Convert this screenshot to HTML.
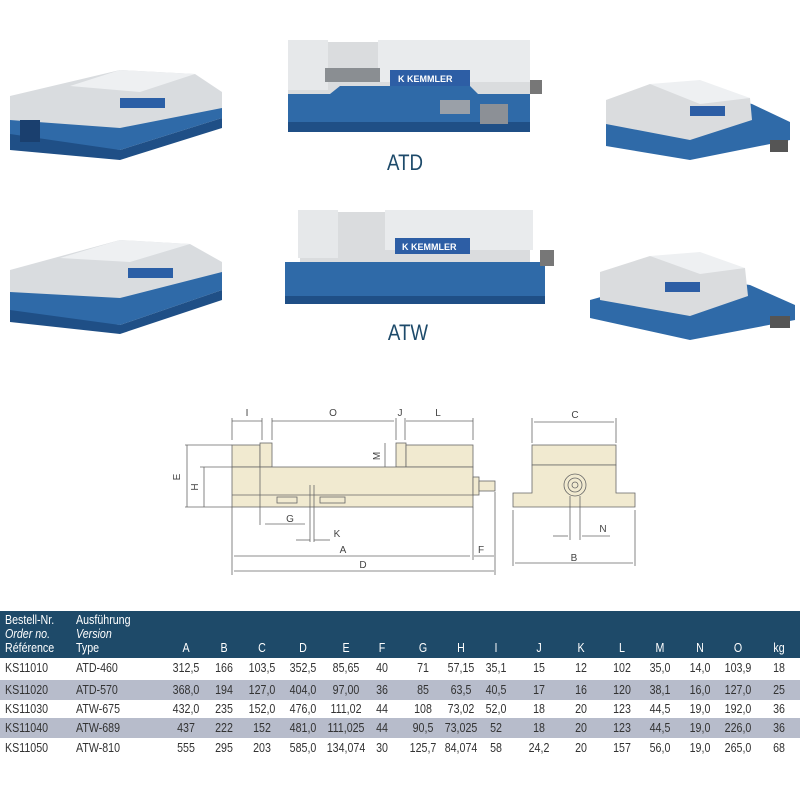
<!DOCTYPE html>
<html><head><meta charset="utf-8"><style>
body{margin:0;background:#fff;width:800px;height:800px;overflow:hidden;font-family:"Liberation Sans",sans-serif;position:relative}
svg{position:absolute;left:0;top:0}
.t{position:absolute;left:0;top:611px;width:800px;font-family:"Liberation Sans",sans-serif;font-size:13px;color:#333}
.hd{position:absolute;left:0;top:0;width:800px;height:47px;background:#1e4a69;color:#fff}
.row{position:absolute;left:0;width:800px;height:20px;line-height:20px}
.g{background:#b7bccb}
span{position:absolute;transform:translateX(-50%) scaleX(0.82);white-space:nowrap;transform-origin:center}
span.l{transform:scaleX(0.82);transform-origin:left}
</style></head><body>
<svg width="800" height="800" viewBox="0 0 800 800" font-family="Liberation Sans, sans-serif">
<g>
<polygon points="10,118 130,100 222,92 222,118 120,150 10,146" fill="#2f6aa8"/>
<polygon points="10,134 120,150 222,118 222,128 120,160 10,150" fill="#1f4f86"/>
<polygon points="10,96 120,70 195,74 222,92 222,108 120,128 10,120" fill="#d9dcdf"/>
<polygon points="70,86 120,70 195,74 140,92" fill="#eef0f2"/>
<rect x="120" y="98" width="45" height="10" fill="#2b5fa6"/>
<rect x="20" y="120" width="20" height="22" fill="#1a3f6e"/>
</g>
<g>
<rect x="288" y="42" width="242" height="52" fill="#dadcde"/>
<rect x="288" y="40" width="40" height="50" fill="#e6e8ea"/>
<rect x="378" y="40" width="152" height="42" fill="#e9ebed"/>
<rect x="325" y="68" width="55" height="14" fill="#8a8e92"/>
<rect x="390" y="70" width="80" height="16" fill="#2d5ea5"/>
<text x="398" y="82" font-size="9" fill="#fff" font-weight="bold">K KEMMLER</text>
<polygon points="288,94 330,94 340,86 470,86 478,94 530,94 530,126 288,126" fill="#2f6aa8"/>
<rect x="288" y="122" width="242" height="10" fill="#1f4f86"/>
<rect x="440" y="100" width="30" height="14" fill="#9aa0a8"/>
<rect x="480" y="104" width="28" height="20" fill="#8c9096"/>
<rect x="530" y="80" width="12" height="14" fill="#777"/>
</g>
<text x="405" y="170" font-size="22" fill="#1d4a6a" text-anchor="middle" transform="translate(405 0) scale(0.85 1) translate(-405 0)">ATD</text>
<g>
<polygon points="606,120 700,90 752,104 790,122 790,140 690,160 606,146" fill="#2f6aa8"/>
<polygon points="606,100 650,84 750,98 752,120 690,140 606,124" fill="#dadcde"/>
<polygon points="650,84 700,80 750,98 700,104" fill="#eef0f2"/>
<rect x="690" y="106" width="35" height="10" fill="#2d5ea5"/>
<rect x="770" y="140" width="18" height="12" fill="#555"/>
</g>
<g>
<polygon points="10,290 120,270 222,262 222,290 120,325 10,318" fill="#2f6aa8"/>
<polygon points="10,310 120,325 222,290 222,300 120,334 10,322" fill="#1f4f86"/>
<polygon points="10,270 120,240 190,244 222,262 222,272 120,298 10,292" fill="#d9dcdf"/>
<polygon points="60,258 120,240 190,244 130,262" fill="#eef0f2"/>
<rect x="128" y="268" width="45" height="10" fill="#2b5fa6"/>
</g>
<g>
<rect x="300" y="212" width="230" height="50" fill="#dadcde"/>
<rect x="298" y="210" width="40" height="48" fill="#e6e8ea"/>
<rect x="385" y="210" width="148" height="40" fill="#e9ebed"/>
<rect x="395" y="238" width="75" height="16" fill="#2d5ea5"/>
<text x="402" y="250" font-size="9" fill="#fff" font-weight="bold">K KEMMLER</text>
<polygon points="285,262 545,262 545,298 285,300" fill="#2f6aa8"/>
<rect x="285" y="296" width="260" height="8" fill="#1f4f86"/>
<rect x="540" y="250" width="14" height="16" fill="#777"/>
</g>
<text x="408" y="340" font-size="22" fill="#1d4a6a" text-anchor="middle" transform="translate(408 0) scale(0.85 1) translate(-408 0)">ATW</text>
<g>
<polygon points="590,300 680,275 750,285 795,305 795,320 690,340 590,318" fill="#2f6aa8"/>
<polygon points="600,272 650,256 745,268 748,296 690,316 600,300" fill="#dadcde"/>
<polygon points="650,256 700,252 745,268 700,274" fill="#eef0f2"/>
<rect x="665" y="282" width="35" height="10" fill="#2d5ea5"/>
<rect x="770" y="316" width="20" height="12" fill="#555"/>
</g>
<g stroke="#666" stroke-width="0.8" fill="none">
<rect x="232" y="445" width="28" height="22" fill="#f1ead0"/>
<rect x="260" y="443" width="12" height="24" fill="#f1ead0"/>
<rect x="396" y="443" width="10" height="24" fill="#f1ead0"/>
<rect x="406" y="445" width="67" height="22" fill="#f1ead0"/>
<rect x="232" y="467" width="241" height="40" fill="#f1ead0"/>
<line x1="232" y1="495" x2="473" y2="495"/>
<rect x="473" y="477" width="6" height="18" fill="#f1ead0"/>
<rect x="479" y="481" width="16" height="10" fill="#f1ead0"/>
<rect x="277" y="497" width="20" height="6"/><rect x="320" y="497" width="25" height="6"/>
<line x1="260" y1="467" x2="260" y2="525"/>
<line x1="232" y1="507" x2="232" y2="575"/><line x1="473" y1="507" x2="473" y2="560"/><line x1="495" y1="492" x2="495" y2="575"/>
<line x1="310" y1="485" x2="310" y2="542"/><line x1="314" y1="485" x2="314" y2="542"/>
<line x1="232" y1="418" x2="232" y2="440"/><line x1="262" y1="418" x2="262" y2="440"/><line x1="272" y1="418" x2="272" y2="440"/><line x1="396" y1="418" x2="396" y2="440"/><line x1="405" y1="418" x2="405" y2="440"/><line x1="473" y1="418" x2="473" y2="440"/>
<line x1="232" y1="421" x2="262" y2="421"/><line x1="272" y1="421" x2="394" y2="421"/><line x1="406" y1="421" x2="473" y2="421"/>
<line x1="185" y1="445" x2="232" y2="445"/><line x1="185" y1="507" x2="232" y2="507"/><line x1="200" y1="467" x2="232" y2="467"/>
<line x1="187" y1="445" x2="187" y2="507"/><line x1="204" y1="467" x2="204" y2="507"/>
<line x1="385" y1="443" x2="385" y2="467"/>
<line x1="265" y1="524" x2="305" y2="524"/><line x1="296" y1="540" x2="310" y2="540"/><line x1="314" y1="540" x2="330" y2="540"/>
<line x1="234" y1="556" x2="470" y2="556"/><line x1="474" y1="556" x2="494" y2="556"/><line x1="234" y1="571" x2="494" y2="571"/>
<rect x="532" y="445" width="84" height="20" fill="#f1ead0"/>
<polygon points="532,465 616,465 616,493 635,493 635,507 513,507 513,493 532,493" fill="#f1ead0"/>
<circle cx="575" cy="485" r="11" fill="#f1ead0"/><circle cx="575" cy="485" r="7"/><circle cx="575" cy="485" r="3"/>
<line x1="532" y1="418" x2="532" y2="443"/><line x1="616" y1="418" x2="616" y2="443"/><line x1="534" y1="422" x2="614" y2="422"/>
<line x1="513" y1="510" x2="513" y2="566"/><line x1="635" y1="510" x2="635" y2="566"/><line x1="515" y1="563" x2="633" y2="563"/>
<line x1="570" y1="496" x2="570" y2="540"/><line x1="580" y1="496" x2="580" y2="540"/>
<line x1="553" y1="536" x2="568" y2="536"/><line x1="582" y1="536" x2="610" y2="536"/>
</g>
<g font-size="10" fill="#444" text-anchor="middle">
<text x="247" y="416">I</text><text x="333" y="416">O</text><text x="400" y="416">J</text><text x="438" y="416">L</text>
<text x="575" y="418">C</text><text x="290" y="522">G</text><text x="337" y="537">K</text>
<text x="343" y="553">A</text><text x="481" y="553">F</text><text x="363" y="568">D</text>
<text x="603" y="532">N</text><text x="574" y="561">B</text>
<text x="180" y="477" transform="rotate(-90 180 477)">E</text><text x="198" y="487" transform="rotate(-90 198 487)">H</text><text x="380" y="456" transform="rotate(-90 380 456)">M</text>
</g>
</svg>
<div class="t">
<div class="hd">
<span class="l" style="left:5px;top:2px;line-height:14px">Bestell-Nr.<br><i>Order no.</i><br>Référence</span>
<span class="l" style="left:76px;top:2px;line-height:14px">Ausführung<br><i>Version</i><br>Type</span>
<span style="left:186px;top:29px">A</span><span style="left:224px;top:29px">B</span><span style="left:262px;top:29px">C</span><span style="left:303px;top:29px">D</span><span style="left:346px;top:29px">E</span><span style="left:382px;top:29px">F</span><span style="left:423px;top:29px">G</span><span style="left:461px;top:29px">H</span><span style="left:496px;top:29px">I</span><span style="left:539px;top:29px">J</span><span style="left:581px;top:29px">K</span><span style="left:622px;top:29px">L</span><span style="left:660px;top:29px">M</span><span style="left:700px;top:29px">N</span><span style="left:738px;top:29px">O</span><span style="left:779px;top:29px">kg</span>
</div>
</div>
<script>
const rows=[["KS11010","ATD-460","312,5","166","103,5","352,5","85,65","40","71","57,15","35,1","15","12","102","35,0","14,0","103,9","18"],
["KS11020","ATD-570","368,0","194","127,0","404,0","97,00","36","85","63,5","40,5","17","16","120","38,1","16,0","127,0","25"],
["KS11030","ATW-675","432,0","235","152,0","476,0","111,02","44","108","73,02","52,0","18","20","123","44,5","19,0","192,0","36"],
["KS11040","ATW-689","437","222","152","481,0","111,025","44","90,5","73,025","52","18","20","123","44,5","19,0","226,0","36"],
["KS11050","ATW-810","555","295","203","585,0","134,074","30","125,7","84,074","58","24,2","20","157","56,0","19,0","265,0","68"]];
const xs=[186,224,262,303,346,382,423,461,496,539,581,622,660,700,738,779];
const tops=[47,69,88,107,127];
const t=document.querySelector('.t');
rows.forEach((r,i)=>{const d=document.createElement('div');d.className='row'+(i%2?' g':'');d.style.top=tops[i]+'px';
let h='<span class="l" style="left:5px">'+r[0]+'</span><span class="l" style="left:76px">'+r[1]+'</span>';
xs.forEach((x,j)=>{h+='<span style="left:'+x+'px">'+r[j+2]+'</span>'});d.innerHTML=h;t.appendChild(d);});
</script>
</body></html>
